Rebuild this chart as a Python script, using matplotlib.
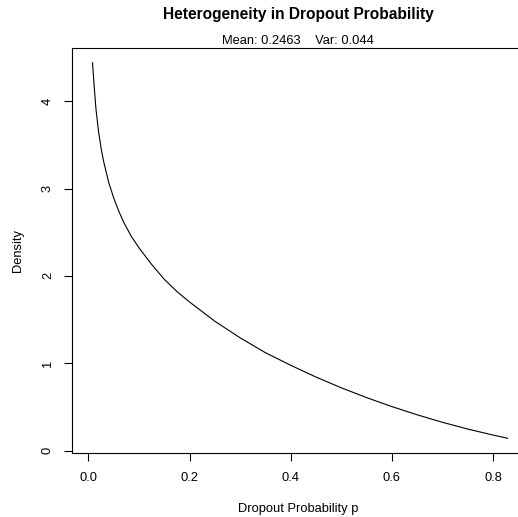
"""
Beta-type density of dropout probability, R base-graphics look
"""
import numpy as np
import matplotlib
matplotlib.use('Agg')
import matplotlib.pyplot as plt

plt.rcParams['font.family'] = ['Liberation Sans', 'DejaVu Sans']

# values
p_vals = [0.008, 0.010, 0.0125, 0.015, 0.020, 0.025, 0.030, 0.040, 0.050, 0.060,
          0.070, 0.085, 0.100, 0.125, 0.150, 0.175, 0.200, 0.250, 0.300, 0.350,
          0.400, 0.450, 0.500, 0.550, 0.600, 0.650, 0.700, 0.750, 0.800, 0.829]
density = [4.44, 4.28, 4.08, 3.90, 3.65, 3.46, 3.31, 3.07, 2.89, 2.74,
           2.61, 2.45, 2.32, 2.13, 1.96, 1.82, 1.70, 1.48, 1.29, 1.12,
           0.976, 0.841, 0.718, 0.606, 0.503, 0.409, 0.323, 0.246, 0.177, 0.140]

x_ticks = [0.0, 0.2, 0.4, 0.6, 0.8]
y_ticks = [0, 1, 2, 3, 4]

title = 'Heterogeneity in Dropout Probability'
subtitle = 'Mean: 0.2463    Var: 0.044'

fs = 9.3
fig = plt.figure(figsize=(5.18, 5.17), dpi=100)
ax = fig.add_axes([0.1384, 0.1232, 0.874, 0.7845])

ax.plot(p_vals, density, color='black', linewidth=0.8)

# R style 4% range extension
x0, x1 = 0.0, max(p_vals)
dx = (x1 - x0) * 0.04
ax.set_xlim(x0 - dx, x1 + dx)
y0, y1 = min(density), max(density)
dy = (y1 - y0) * 0.04
ax.set_ylim(y0 - dy, y1 + dy)

ax.set_xticks(x_ticks)
ax.set_xticklabels(['%.1f' % v for v in x_ticks], fontsize=fs)
ax.set_yticks(y_ticks)
ax.set_yticklabels([str(v) for v in y_ticks], fontsize=fs, rotation=90, va='center')
ax.tick_params(direction='out', length=5.8, width=0.8, color='black')
ax.tick_params(axis='x', pad=7.5)
ax.tick_params(axis='y', pad=7.0)
for s in ax.spines.values():
    s.set_linewidth(0.8)
    s.set_color('black')

ax.set_xlabel('Dropout Probability p', fontsize=fs)
ax.set_ylabel('Density', fontsize=fs)
ax.xaxis.set_label_coords(0.5, -0.138)
ax.yaxis.set_label_coords(-0.1186, 0.5)
ax.xaxis.label.set_va('center')
ax.yaxis.label.set_va('center')

cx = 0.1384 + 0.874 / 2
fig.text(cx, 1 - 15 / 517, title, ha='center', va='center', fontsize=11.2, fontweight='bold')
fig.text(cx, 1 - 41 / 517, subtitle, ha='center', va='center', fontsize=fs)

fig.savefig('out.png', dpi=100, facecolor='white')
